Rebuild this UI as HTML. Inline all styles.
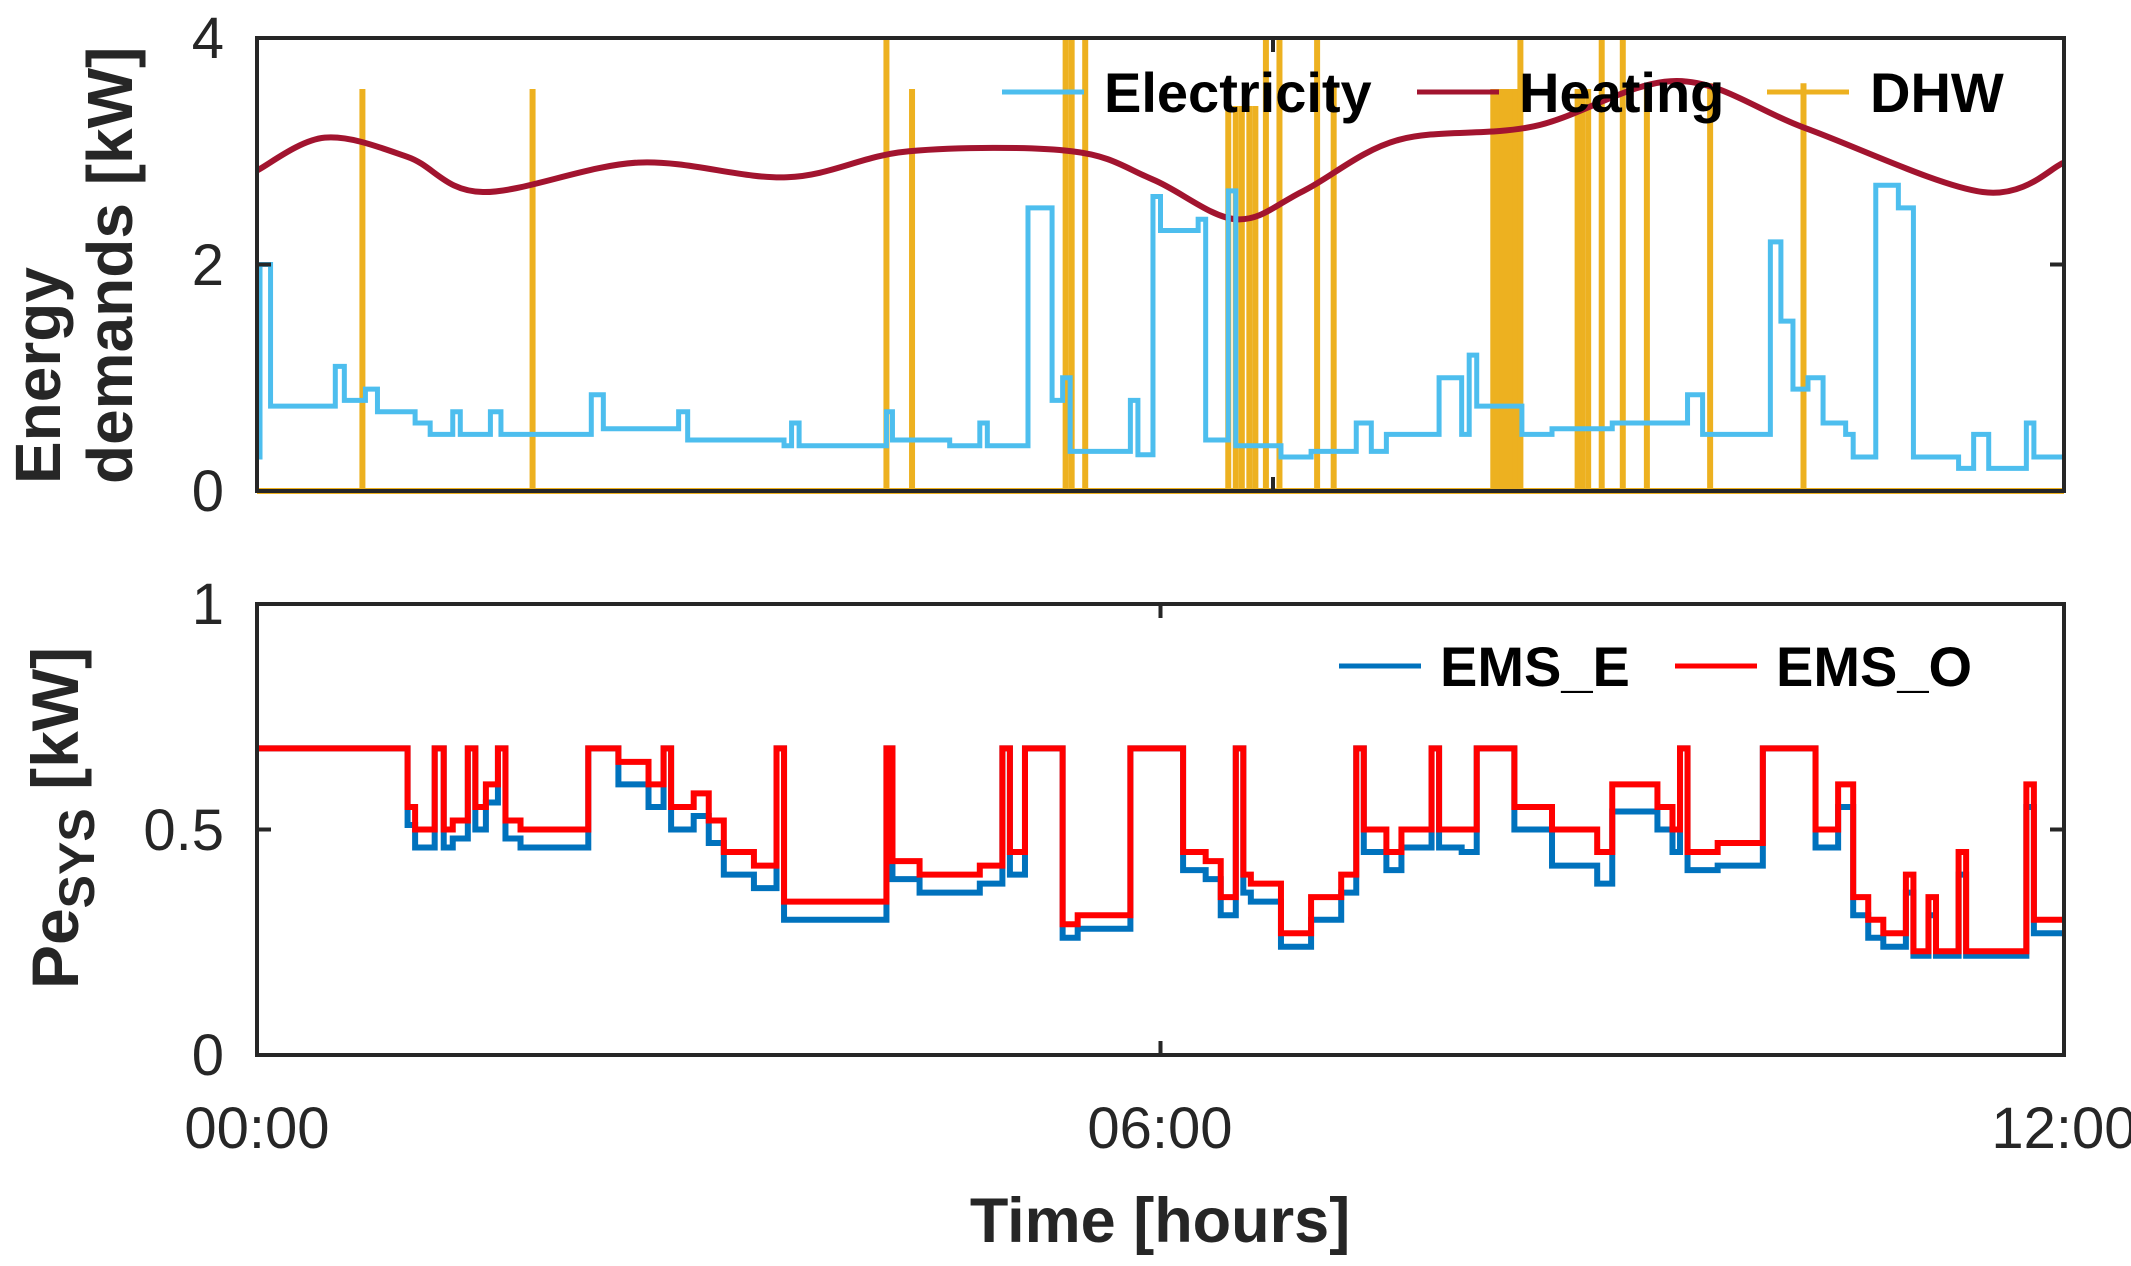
<!DOCTYPE html>
<html><head><meta charset="utf-8">
<style>
html,body{margin:0;padding:0;background:#fff;}
svg{display:block;font-family:"Liberation Sans",Arial,sans-serif;}
</style></head>
<body>
<svg id="chart" width="2131" height="1266" viewBox="0 0 2131 1266" xmlns="http://www.w3.org/2000/svg">
  <rect x="0" y="0" width="2131" height="1266" fill="#fff"/>
  <g id="topPanel"></g>
  <g id="botPanel"></g>

  <text x="224" y="58" font-size="58" fill="#262626" text-anchor="end">4</text>
  <text x="224" y="285" font-size="58" fill="#262626" text-anchor="end">2</text>
  <text x="224" y="511" font-size="58" fill="#262626" text-anchor="end">0</text>
  <text transform="translate(60,484) rotate(-90)" font-size="64" font-weight="bold" fill="#262626" text-anchor="start">Energy</text>
  <text transform="translate(132,484) rotate(-90)" font-size="64" font-weight="bold" fill="#262626" text-anchor="start">demands [kW]</text>

  <text x="224" y="624" font-size="58" fill="#262626" text-anchor="end">1</text>
  <text x="224" y="850" font-size="58" fill="#262626" text-anchor="end">0.5</text>
  <text x="224" y="1075" font-size="58" fill="#262626" text-anchor="end">0</text>
  <text transform="translate(78,818) rotate(-90)" font-size="66" font-weight="bold" fill="#262626" text-anchor="middle">Pe<tspan font-size="50" dy="16">SYS</tspan><tspan dy="-16"> [kW]</tspan></text>
  <text x="257" y="1148" font-size="58" fill="#262626" text-anchor="middle">00:00</text>
  <text x="1160" y="1148" font-size="58" fill="#262626" text-anchor="middle">06:00</text>
  <text x="2064" y="1148" font-size="58" fill="#262626" text-anchor="middle">12:00</text>
  <text x="1160" y="1242" font-size="63" font-weight="bold" fill="#262626" text-anchor="middle">Time [hours]</text>
</svg>
<script>
const elecT = [0,0.02,0.09,0.52,0.58,0.72,0.8,1.05,1.15,1.3,1.35,1.55,1.62,1.75,2.22,2.3,2.8,2.86,3.0,3.5,3.55,3.6,4.18,4.22,4.6,4.8,4.85,5.12,5.28,5.35,5.4,5.8,5.85,5.95,6.0,6.25,6.3,6.45,6.5,6.55,6.8,7.0,7.3,7.4,7.5,7.85,8.0,8.05,8.1,8.4,8.6,9.0,9.5,9.6,9.8,10.05,10.12,10.2,10.3,10.4,10.55,10.6,10.75,10.9,11.0,11.3,11.4,11.5,11.75,11.8];
const elecV = [0.3,2.0,0.75,1.1,0.8,0.9,0.7,0.6,0.5,0.7,0.5,0.7,0.5,0.5,0.85,0.55,0.7,0.45,0.45,0.4,0.6,0.4,0.7,0.45,0.4,0.6,0.4,2.5,0.8,1.0,0.35,0.8,0.32,2.6,2.3,2.4,0.45,2.65,0.4,0.4,0.3,0.35,0.6,0.35,0.5,1.0,0.5,1.2,0.75,0.5,0.55,0.6,0.85,0.5,0.5,2.2,1.5,0.9,1.0,0.6,0.5,0.3,2.7,2.5,0.3,0.2,0.5,0.2,0.6,0.3];
const heatT = [0,0.45,1.0,1.5,2.53,3.52,4.33,5.41,5.95,6.5,6.95,7.58,8.48,9.43,10.29,11.46,12];
const heatV = [2.83,3.12,2.95,2.64,2.9,2.77,3.0,3.0,2.75,2.4,2.65,3.1,3.22,3.62,3.2,2.64,2.9];
const dhwT = [0.7,1.83,4.18,4.35,5.37,5.41,5.5,6.45,6.5,6.54,6.59,6.63,6.7,6.79,7.04,7.15,8.21,8.24,8.27,8.3,8.33,8.36,8.39,8.77,8.8,8.84,8.93,9.07,9.23,9.65,10.27];
const dhwV = [3.55,3.55,4,3.55,4,4,4,3.4,3.4,3.4,3.4,3.4,4,4,4,3.6,3.55,3.55,3.55,3.55,3.55,3.55,4,3.55,3.55,3.55,4,4,3.6,3.6,3.6];
const emsT = [0,1.0,1.05,1.18,1.24,1.3,1.4,1.45,1.52,1.6,1.65,1.75,2.2,2.4,2.6,2.7,2.75,2.9,3.0,3.1,3.3,3.45,3.5,4.0,4.18,4.22,4.4,4.8,4.95,5.0,5.1,5.3,5.35,5.45,5.8,6.1,6.15,6.3,6.4,6.5,6.55,6.6,6.8,7.0,7.2,7.3,7.35,7.5,7.6,7.8,7.85,8.0,8.1,8.3,8.35,8.6,8.9,9.0,9.3,9.4,9.45,9.5,9.7,9.95,10.0,10.3,10.35,10.5,10.6,10.7,10.8,10.9,10.95,11.0,11.1,11.15,11.3,11.35,11.5,11.65,11.75,11.8,12];
const emsO = [0.68,0.55,0.5,0.68,0.5,0.52,0.68,0.55,0.6,0.68,0.52,0.5,0.68,0.65,0.6,0.68,0.55,0.58,0.52,0.45,0.42,0.68,0.34,0.34,0.68,0.43,0.4,0.42,0.68,0.45,0.68,0.68,0.29,0.31,0.68,0.68,0.45,0.43,0.35,0.68,0.4,0.38,0.27,0.35,0.4,0.68,0.5,0.45,0.5,0.68,0.5,0.5,0.68,0.68,0.55,0.5,0.45,0.6,0.55,0.5,0.68,0.45,0.47,0.47,0.68,0.68,0.5,0.6,0.35,0.3,0.27,0.27,0.4,0.23,0.35,0.23,0.45,0.23,0.23,0.23,0.6,0.3,0.3];
const emsE = [0.68,0.51,0.46,0.68,0.46,0.48,0.68,0.5,0.56,0.68,0.48,0.46,0.68,0.6,0.55,0.68,0.5,0.53,0.47,0.4,0.37,0.68,0.3,0.3,0.68,0.39,0.36,0.38,0.68,0.4,0.68,0.68,0.26,0.28,0.68,0.68,0.41,0.39,0.31,0.68,0.36,0.34,0.24,0.3,0.36,0.68,0.45,0.41,0.46,0.68,0.46,0.45,0.68,0.68,0.5,0.42,0.38,0.54,0.5,0.45,0.68,0.41,0.42,0.42,0.68,0.68,0.46,0.55,0.31,0.26,0.24,0.24,0.36,0.22,0.31,0.22,0.4,0.22,0.22,0.22,0.55,0.27,0.27];

const X0 = 257, X1 = 2064;
const xs = h => X0 + (h / 12) * (X1 - X0);
const yTop = v => 491 - (v / 4) * (491 - 38);
const yBot = v => 1055 - v * (1055 - 604);
const NS = "http://www.w3.org/2000/svg";
function mk(tag, attrs, parent) {
  const e = document.createElementNS(NS, tag);
  for (const k in attrs) e.setAttribute(k, attrs[k]);
  parent.appendChild(e);
  return e;
}
function stepPath(T, V, ys) {
  let d = "M" + xs(T[0]) + "," + ys(V[0]);
  for (let i = 1; i < T.length; i++) d += " H" + xs(T[i]) + " V" + ys(V[i]);
  d += " H" + xs(12);
  return d;
}
const topG = document.getElementById("topPanel");
const botG = document.getElementById("botPanel");

const dhwG = mk("g", {}, topG);


const base = mk("line", {x1: xs(0), x2: xs(12), y1: yTop(0), y2: yTop(0), stroke: "#EDB120", "stroke-width": 6}, dhwG);


for (let i = 0; i < dhwT.length; i++) {
  const l = mk("line", {x1: xs(dhwT[i]), x2: xs(dhwT[i]), y1: yTop(0), y2: yTop(dhwV[i]), stroke: "#EDB120", "stroke-width": 6}, dhwG);
  
  
}
let hd = "M" + xs(heatT[0]) + "," + yTop(heatV[0]);
for (let i = 0; i < heatT.length - 1; i++) {
  const a = Math.max(0, i - 1), b = Math.min(heatT.length - 1, i + 2);
  const p0 = [xs(heatT[a]), yTop(heatV[a])];
  const p1 = [xs(heatT[i]), yTop(heatV[i])];
  const p2 = [xs(heatT[i + 1]), yTop(heatV[i + 1])];
  const p3 = [xs(heatT[b]), yTop(heatV[b])];
  const c1 = [p1[0] + (p2[0] - p0[0]) / 6, p1[1] + (p2[1] - p0[1]) / 6];
  const c2 = [p2[0] - (p3[0] - p1[0]) / 6, p2[1] - (p3[1] - p1[1]) / 6];
  hd += " C" + c1.join(",") + " " + c2.join(",") + " " + p2.join(",");
}
const heat = mk("path", {d: hd, fill: "none", stroke: "#A2142F", "stroke-width": 6}, topG);


const el = mk("path", {d: stepPath(elecT, elecV, yTop), fill: "none", stroke: "#4DBEEE", "stroke-width": 5}, topG);


const tf = mk("rect", {x: X0, y: 38, width: X1 - X0, height: 491 - 38, fill: "none", stroke: "#262626", "stroke-width": 4}, topG);


mk("line", {x1: X1, x2: X1 - 14, y1: yTop(2), y2: yTop(2), stroke: "#262626", "stroke-width": 4}, topG);
mk("line", {x1: X0, x2: X0 + 14, y1: yTop(2), y2: yTop(2), stroke: "#262626", "stroke-width": 4}, topG);
mk("line", {x1: 1273, x2: 1273, y1: 491, y2: 477, stroke: "#262626", "stroke-width": 4}, topG);
mk("line", {x1: 1273, x2: 1273, y1: 38, y2: 52, stroke: "#262626", "stroke-width": 4}, topG);
const lg = mk("g", {}, topG);


const legTop = [["Electricity", "#4DBEEE", 1002, 1104], ["Heating", "#A2142F", 1417, 1519], ["DHW", "#EDB120", 1767, 1870]];
legTop.forEach(a => {
  mk("line", {x1: a[2], x2: a[2] + 82, y1: 92, y2: 92, stroke: a[1], "stroke-width": 5}, lg);
  const t = mk("text", {x: a[3], y: 112, "font-size": 56, "font-weight": "bold", fill: "#000"}, lg);
  t.textContent = a[0];
  
  
});

const e1 = mk("path", {d: stepPath(emsT, emsE, yBot), fill: "none", stroke: "#0072BD", "stroke-width": 6}, botG);


const e2 = mk("path", {d: stepPath(emsT, emsO, yBot), fill: "none", stroke: "#FF0000", "stroke-width": 6}, botG);


const bf = mk("rect", {x: X0, y: 604, width: X1 - X0, height: 1055 - 604, fill: "none", stroke: "#262626", "stroke-width": 4}, botG);


mk("line", {x1: X1, x2: X1 - 14, y1: yBot(0.5), y2: yBot(0.5), stroke: "#262626", "stroke-width": 4}, botG);
mk("line", {x1: X0, x2: X0 + 14, y1: yBot(0.5), y2: yBot(0.5), stroke: "#262626", "stroke-width": 4}, botG);
mk("line", {x1: xs(6), x2: xs(6), y1: 1055, y2: 1041, stroke: "#262626", "stroke-width": 4}, botG);
mk("line", {x1: xs(6), x2: xs(6), y1: 604, y2: 618, stroke: "#262626", "stroke-width": 4}, botG);
const lb = mk("g", {}, botG);


const legBot = [["EMS_E", "#0072BD", 1339, 1440], ["EMS_O", "#FF0000", 1675, 1776]];
legBot.forEach(a => {
  mk("line", {x1: a[2], x2: a[2] + 82, y1: 666, y2: 666, stroke: a[1], "stroke-width": 5}, lb);
  const t = mk("text", {x: a[3], y: 686, "font-size": 56, "font-weight": "bold", fill: "#000"}, lb);
  t.textContent = a[0];
  
  
});
</script>
</body></html>
